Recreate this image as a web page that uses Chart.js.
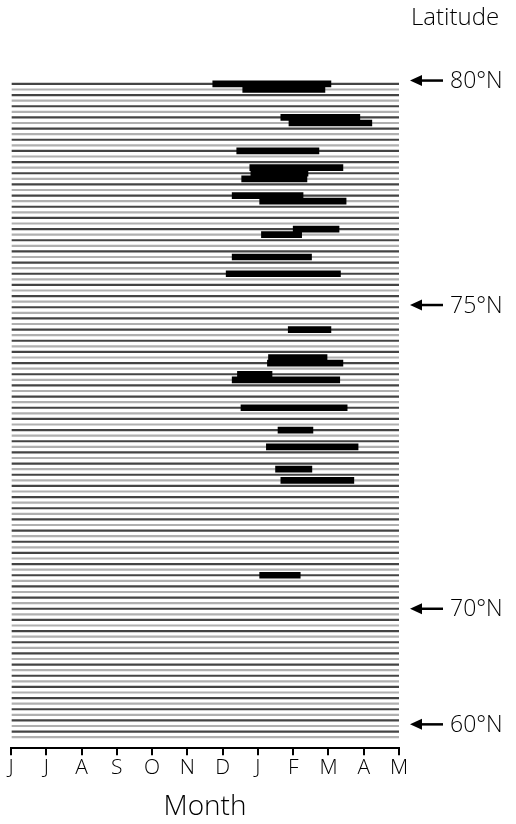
<!DOCTYPE html>
<html lang="en">
<head>
  <meta charset="UTF-8" />
  <title>Latitude vs Month</title>
  <script src="https://cdn.jsdelivr.net/npm/chart.js@4.4.0/dist/chart.umd.min.js"></script>
  <style>
    body  { margin:0; background:#fff; }
    .wrap { width:516px; height:824px; position:relative; }
  </style>
</head>
<body>
  <div class="wrap"><canvas id="chart"></canvas></div>

  <script>
    /* ── data ── */
    const months    = ['J','J','A','S','O','N','D','J','F','M','A','M'];   // June → May
    const rowCount  = 118;                                                  // station rows, north → south
    const barRows   = [0, 1, 6, 7, 12, 15, 16, 17, 20, 21, 26, 27, 31, 34, 44, 49, 50, 52, 53, 58, 62, 65, 69, 71, 88];
    const barStart  = [5.72, 6.57, 7.65, 7.88, 6.40, 6.77, 6.80, 6.54, 6.27, 7.05, 8.00, 7.10, 6.27, 6.10, 7.86, 7.30, 7.27, 6.42, 6.27, 6.52, 7.57, 7.24, 7.50, 7.65, 7.05];
    const barEnd    = [9.07, 8.90, 9.89, 10.23, 8.73, 9.41, 8.42, 8.39, 8.28, 9.50, 9.30, 8.24, 8.52, 9.34, 9.07, 8.96, 9.41, 7.40, 9.32, 9.53, 8.56, 9.84, 8.53, 9.72, 8.20];
    const latLabels = ['80°N', '75°N', '70°N', '60°N'];
    const latRows   = [-0.6, 39.6, 94, 114.7];

    const FONT = '"Open Sans", "DejaVu Sans", sans-serif';

    /* thin record lines: full season for every row */
    const lineData = [];
    for (let r = 0; r < rowCount; r++) lineData.push({ y:r, x:[0, 11] });

    /* thick bars */
    const barData = barRows.map((r, i) => ({ y:r, x:[barStart[i], barEnd[i]] }));

    /* latitude arrows + header on the right */
    const latitudePlugin = {
      id:'latitude',
      afterDraw(chart){
        const { ctx, scales:{ y } } = chart;
        ctx.save();
        ctx.fillStyle = '#000';
        ctx.strokeStyle = '#000';
        ctx.font = '300 24px ' + FONT;
        ctx.textBaseline = 'middle';
        ctx.textAlign = 'left';
        ctx.fillText('Latitude', 411, 18);

        ctx.font = '300 23px ' + FONT;
        latRows.forEach((r, i) => {
          const py = y.getPixelForValue(r);
          ctx.lineWidth = 2.5;
          ctx.beginPath();
          ctx.moveTo(418, py);
          ctx.lineTo(443, py);
          ctx.stroke();
          ctx.beginPath();
          ctx.moveTo(410, py);
          ctx.lineTo(422, py - 5.5);
          ctx.lineTo(422, py + 5.5);
          ctx.closePath();
          ctx.fill();
          ctx.fillText(latLabels[i], 450, py + 1);
        });
        ctx.restore();
      }
    };

    new Chart(document.getElementById('chart'), {
      type:'bar',
      data:{
        datasets:[
          {
            data:barData,
            backgroundColor:'#000',
            barThickness:6,
            grouped:false,
            order:0
          },
          {
            data:lineData,
            backgroundColor:ctx => (ctx.dataIndex % 2 ? '#b0b0b0' : '#444'),
            barThickness:1.5,
            grouped:false,
            order:1
          }
        ]
      },
      options:{
        indexAxis:'y',
        responsive:true,
        maintainAspectRatio:false,
        animation:false,
        layout:{ padding:{ left:11, right:117, top:80, bottom:0 } },
        plugins:{
          legend:{ display:false },
          tooltip:{ enabled:false }
        },
        scales:{
          x:{
            type:'linear',
            position:'bottom',
            min:0, max:11,
            offset:false,
            ticks:{
              stepSize:1,
              padding:0,
              color:'#000',
              font:{ family:FONT, size:21, weight:'300' },
              callback:v => months[v]
            },
            grid:{ drawOnChartArea:false, tickLength:7, color:'#000', lineWidth:2 },
            border:{ display:true, color:'#000', width:2 },
            title:{
              display:true,
              text:'Month',
              color:'#000',
              font:{ family:FONT, size:28, weight:'300' },
              padding:{ top:10, bottom:0 }
            }
          },
          y:{
            type:'linear',
            reverse:true,
            offset:false,
            min:-0.7, max:118.97,
            display:false
          }
        }
      },
      plugins:[latitudePlugin]
    });
  </script>
</body>
</html>
